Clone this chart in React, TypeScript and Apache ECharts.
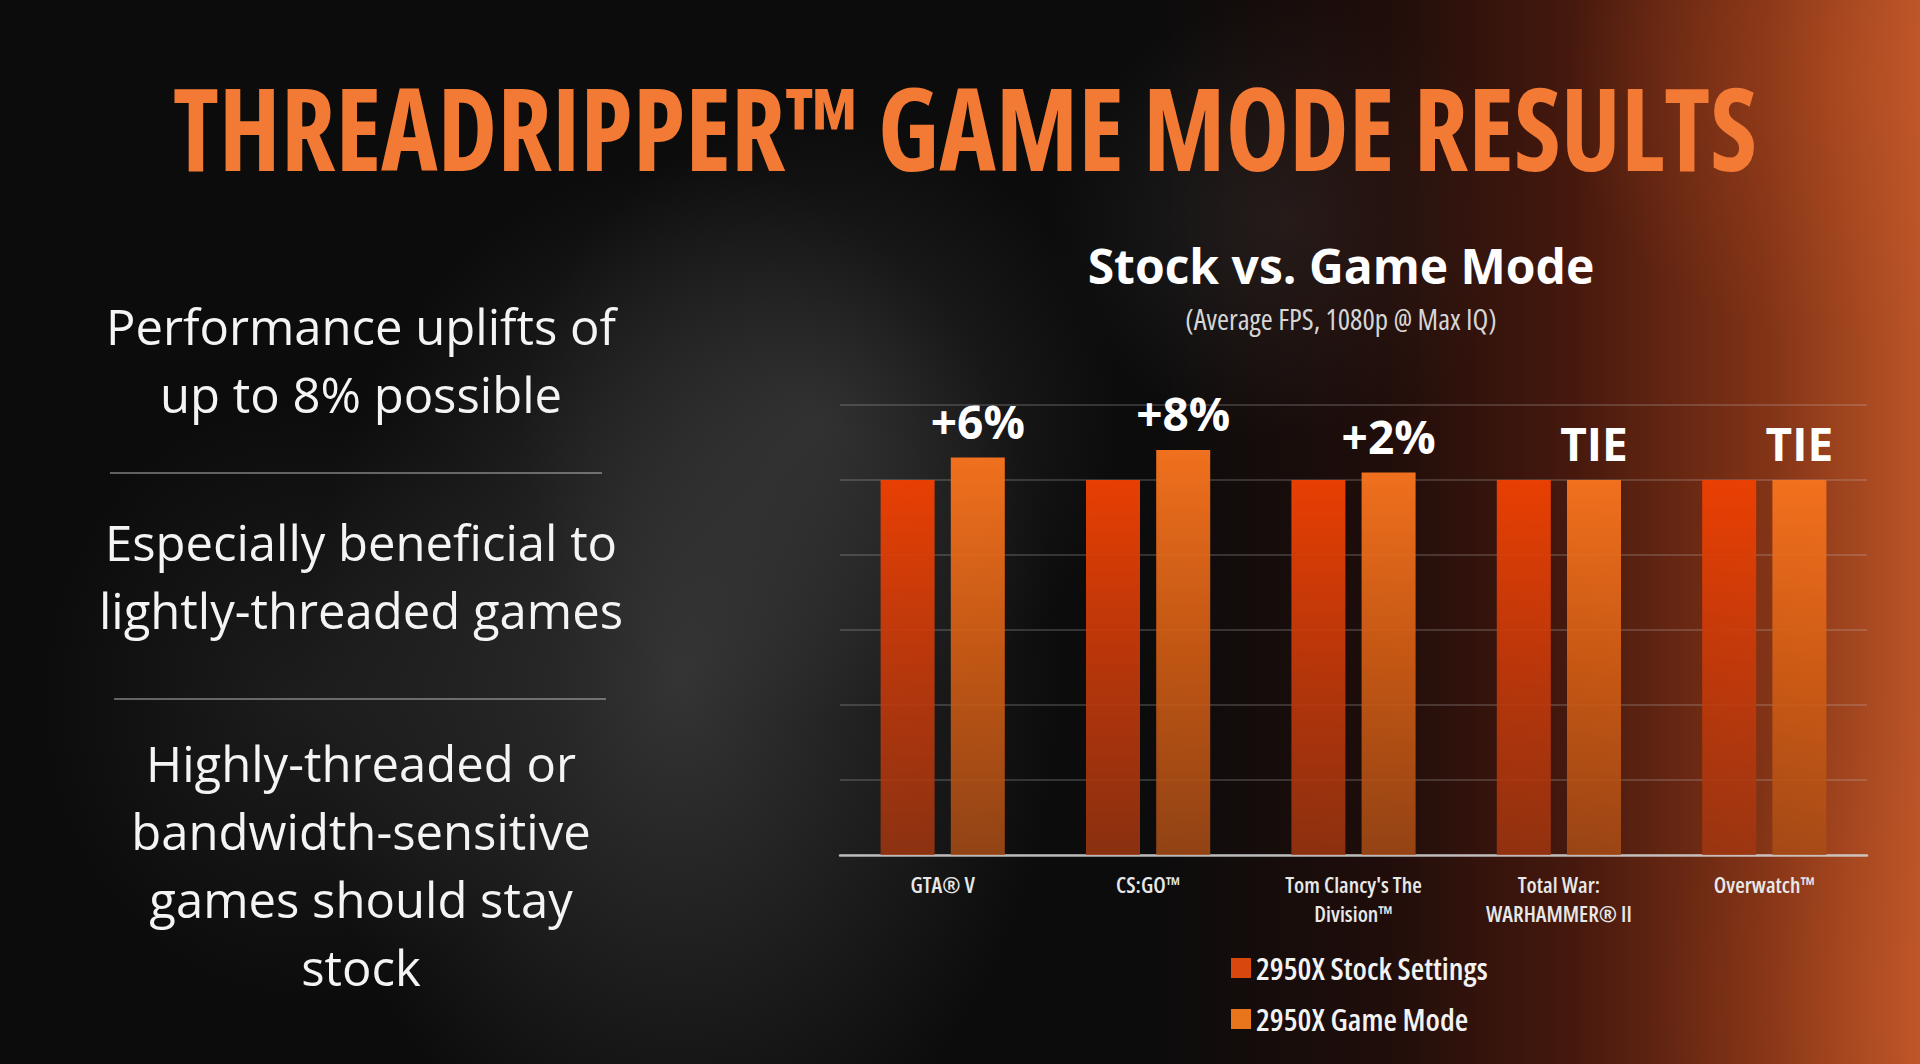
import React, { useEffect, useRef } from "react";
import * as echarts from "echarts";

const categories = [
  "GTA® V",
  "CS:GO™",
  "Tom Clancy's The\nDivision™",
  "Total War:\nWARHAMMER® II",
  "Overwatch™",
];
const stockValues = [100, 100, 100, 100, 100];
const gameModeValues = [106, 108, 102, 100, 100];
const deltaLabels = ["+6%", "+8%", "+2%", "TIE", "TIE"];
const seriesNames = ["2950X Stock Settings", "2950X Game Mode"];
const bulletLines = [
  ["Performance uplifts of", "up to 8% possible"],
  ["Especially beneficial to", "lightly-threaded games"],
  ["Highly-threaded or", "bandwidth-sensitive", "games should stay", "stock"],
];

const OPEN = "'Open Sans', 'Noto Sans', sans-serif";

const css = `
text[style*="22px"], tspan[style*="22px"], text[font-size="22"] { font-stretch: condensed !important; }
text[style*="31px"], tspan[style*="31px"], text[font-size="31"] { font-stretch: semi-condensed !important; }
`;

export default function App() {
  const ref = useRef<HTMLDivElement>(null);
  useEffect(() => {
    document.body.style.margin = "0";
    const chart = echarts.init(ref.current!, null, { renderer: "svg" });

    const graphics: any[] = [];
    // main title: lighter top layer offset slightly to suggest the reference's vertical shading
    graphics.push({
      type: "text",
      x: 965,
      y: 126,
      scaleX: 0.93,
      style: {
        text: "THREADRIPPER™ GAME MODE RESULTS",
        font: `bold condensed 115px ${OPEN}`,
        textAlign: "center",
        textVerticalAlign: "middle",
        fill: "#f27a34",
        shadowColor: "rgba(0,0,0,0.5)",
        shadowBlur: 8,
      },
    });
    graphics.push({
      type: "text",
      x: 1341,
      y: 265,
      style: {
        text: "Stock vs. Game Mode",
        font: `bold 48px ${OPEN}`,
        textAlign: "center",
        textVerticalAlign: "middle",
        fill: "#ffffff",
      },
    });
    graphics.push({
      type: "text",
      x: 1341,
      y: 318,
      style: {
        text: "(Average FPS, 1080p @ Max IQ)",
        font: `normal semi-condensed 29px ${OPEN}`,
        textAlign: "center",
        textVerticalAlign: "middle",
        fill: "#d6d6d6",
      },
    });

    const blockTops = [326, 542, 763];
    blockTops.forEach((y0, bi) => {
      bulletLines[bi].forEach((line, li) => {
        graphics.push({
          type: "text",
          x: 361,
          y: y0 + li * 68,
          style: {
            text: line,
            font: `normal 49px ${OPEN}`,
            fill: "#f4f4f4",
            textAlign: "center",
            textVerticalAlign: "middle",
          },
        });
      });
    });
    [
      [110, 602, 473],
      [114, 606, 699],
    ].forEach(([x1, x2, y]) => {
      graphics.push({
        type: "line",
        shape: { x1, y1: y, x2, y2: y },
        style: { stroke: "rgba(220,220,220,0.55)", lineWidth: 1.5 },
      });
    });

    const stockGrad = {
      type: "linear", x: 0, y: 0, x2: 0, y2: 1,
      colorStops: [
        { offset: 0, color: "rgba(236,64,2,0.98)" },
        { offset: 0.5, color: "rgba(200,58,10,0.9)" },
        { offset: 1, color: "rgba(160,54,16,0.85)" },
      ],
    };
    const gameGrad = {
      type: "linear", x: 0, y: 0, x2: 0, y2: 1,
      colorStops: [
        { offset: 0, color: "rgba(244,114,30,0.98)" },
        { offset: 0.5, color: "rgba(212,94,20,0.9)" },
        { offset: 1, color: "rgba(168,76,22,0.85)" },
      ],
    };

    chart.setOption({
      animation: false,
      backgroundColor: "transparent",
      legend: {
        orient: "vertical",
        left: 1226,
        top: 947,
        itemWidth: 20,
        itemHeight: 20,
        itemGap: 19,
        icon: "rect",
        textStyle: { color: "#f2f2f2", fontFamily: OPEN, fontSize: 31, lineHeight: 32, fontWeight: 600 },
        data: [
          { name: seriesNames[0], itemStyle: { color: "#d8480e" } },
          { name: seriesNames[1], itemStyle: { color: "#e8741c" } },
        ],
      },
      grid: { left: 840, right: 53, top: 405, bottom: 209, containLabel: false },
      xAxis: {
        type: "category",
        data: categories,
        axisLine: { lineStyle: { color: "rgba(210,210,210,0.85)", width: 2.5 } },
        axisTick: { show: false },
        axisLabel: {
          color: "#e8e8e8",
          fontFamily: OPEN,
          fontWeight: 600,
          fontSize: 22,
          lineHeight: 29,
          margin: 14,
          interval: 0,
        },
      },
      yAxis: {
        type: "value",
        min: 0,
        max: 120,
        interval: 20,
        axisLabel: { show: false },
        axisLine: { show: false },
        axisTick: { show: false },
        splitLine: { lineStyle: { color: "rgba(200,200,200,0.28)", width: 1.5 } },
      },
      series: [
        {
          name: seriesNames[0],
          type: "bar",
          data: stockValues,
          barWidth: 54,
          barGap: "30%",
          itemStyle: { color: stockGrad },
        },
        {
          name: seriesNames[1],
          type: "bar",
          data: gameModeValues,
          barWidth: 54,
          barGap: "30%",
          itemStyle: { color: gameGrad },
          label: {
            show: true,
            position: "top",
            distance: 14,
            formatter: (p: any) => deltaLabels[p.dataIndex],
            color: "#ffffff",
            fontFamily: OPEN,
            fontWeight: "bold",
            fontSize: 46,
          },
        },
      ],
      graphic: graphics,
    });
    return () => chart.dispose();
  }, []);

  const bg = [
    "linear-gradient(90deg, rgba(0,0,0,0) 0%, rgba(0,0,0,0) 60%, rgba(50,14,8,0.5) 72%, rgba(95,30,14,0.7) 82%, rgba(150,58,24,0.85) 92%, rgba(196,88,40,0.95) 100%)",
    "radial-gradient(ellipse 300px 260px at 1860px 80px, rgba(220,110,50,0.6), rgba(0,0,0,0))",
    "radial-gradient(ellipse 240px 300px at 1900px 1000px, rgba(200,90,36,0.55), rgba(0,0,0,0))",
    "radial-gradient(ellipse 380px 520px at 680px 680px, rgba(92,92,92,0.5), rgba(0,0,0,0))",
    "radial-gradient(ellipse 300px 300px at 820px 420px, rgba(80,80,80,0.4), rgba(0,0,0,0))",
    "radial-gradient(ellipse 240px 220px at 1290px 220px, rgba(80,80,80,0.3), rgba(0,0,0,0))",
    "radial-gradient(ellipse 260px 300px at 300px 700px, rgba(60,60,60,0.35), rgba(0,0,0,0))",
    "#0c0c0c",
  ].join(", ");

  return (
    <>
      <style>{css}</style>
      <div
        ref={ref}
        style={{ width: 1920, height: 1064, background: bg, overflow: "hidden" }}
      />
    </>
  );
}
